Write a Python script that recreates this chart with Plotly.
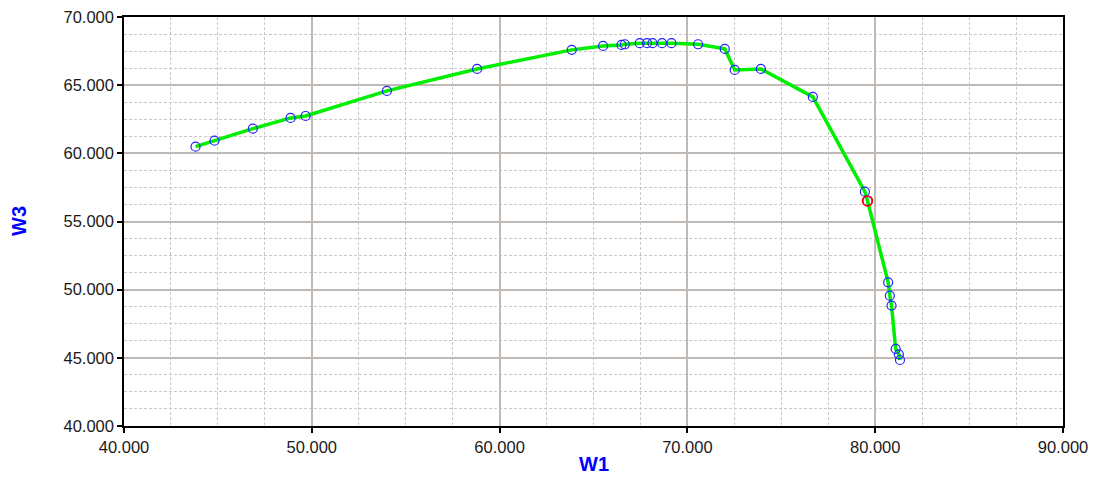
import plotly.graph_objects as go

w1 = [43.81, 44.82, 46.86, 48.87, 49.67, 54.00, 58.80, 63.84, 65.51, 66.49,
      66.67, 67.46, 67.85, 68.14, 68.65, 69.15, 70.57, 71.99, 72.52, 73.91,
      76.68, 79.45, 79.59, 80.69, 80.78, 80.87, 81.09, 81.26, 81.32]
w3 = [60.49, 60.93, 61.81, 62.60, 62.74, 64.58, 66.19, 67.59, 67.88, 67.95,
      68.00, 68.08, 68.08, 68.08, 68.08, 68.08, 68.00, 67.66, 66.12, 66.19,
      64.14, 57.19, 56.51, 50.54, 49.56, 48.83, 45.65, 45.26, 44.84]
sel_w1 = [79.59]
sel_w3 = [56.51]

x_ticks = [40, 50, 60, 70, 80, 90]
y_ticks = [40, 45, 50, 55, 60, 65, 70]

fig = go.Figure()
fig.add_trace(go.Scatter(
    x=w1, y=w3, mode="lines",
    line=dict(color="#00ee00", width=3.5),
    hoverinfo="skip", showlegend=False))
fig.add_trace(go.Scatter(
    x=w1, y=w3, mode="markers",
    marker=dict(symbol="circle-open", size=9, color="#2222ff", line=dict(width=1.2)),
    showlegend=False))
fig.add_trace(go.Scatter(
    x=sel_w1, y=sel_w3, mode="markers",
    marker=dict(symbol="circle-open", size=10, color="#ff0000", line=dict(width=1.5)),
    showlegend=False))

axis_common = dict(
    showline=True, linecolor="black", linewidth=1.5, mirror=True,
    ticks="outside", ticklen=5, tickcolor="black", tickwidth=1.5,
    showgrid=True, gridcolor="#bfbab5", gridwidth=2,
    tickformat=".3f", zeroline=False,
    tickfont=dict(family="Liberation Sans, Arial", size=16.5, color="#1a1a1a"),
)

fig.update_xaxes(range=[40, 90], tickvals=x_ticks,
                 minor=dict(dtick=2.5, showgrid=True, gridcolor="#c8c8c8",
                            griddash="3px,2px", gridwidth=1, ticks=""),
                 **axis_common)
fig.update_yaxes(range=[40, 70], tickvals=y_ticks,
                 minor=dict(dtick=1.25, showgrid=True, gridcolor="#c8c8c8",
                            griddash="3px,2px", gridwidth=1, ticks=""),
                 **axis_common)

L, R, T, B = 124, 38, 17, 51
W, H = 1101, 477
pw = W - L - R
ph = H - T - B

fig.update_layout(
    width=W, height=H,
    margin=dict(l=L, r=R, t=T, b=B, autoexpand=False),
    plot_bgcolor="white", paper_bgcolor="white",
    annotations=[
        dict(text="<b>W1</b>", x=(594 - L) / pw, y=(H - B - 463.5) / ph,
             xanchor="center", yanchor="middle",
             xref="paper", yref="paper", showarrow=False,
             font=dict(family="Liberation Sans, Arial", size=20, color="#0000ff")),
        dict(text="<b>W3</b>", textangle=-90, x=(19 - L) / pw, y=(H - B - 221) / ph,
             xanchor="center", yanchor="middle",
             xref="paper", yref="paper", showarrow=False,
             font=dict(family="Liberation Sans, Arial", size=20, color="#0000ff")),
    ],
)

fig.write_html("out.html", config={"displayModeBar": False},
               post_script="document.body.style.margin='0';document.body.style.padding='0';")
